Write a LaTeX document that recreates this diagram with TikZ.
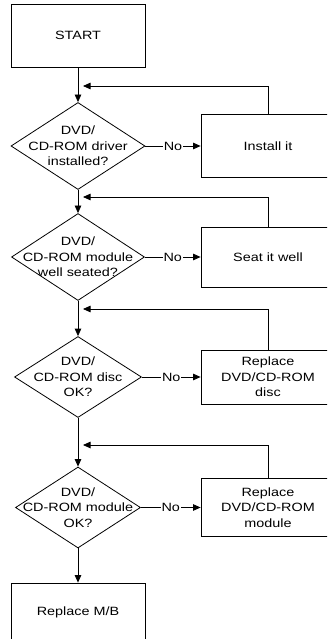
\documentclass[tikz,border=0pt]{standalone}
\usepackage{fontspec}
\newfontfamily\flowFont[FakeStretch=1.2]{Liberation Sans}
\usetikzlibrary{arrows.meta,shapes.geometric}
\tikzset{
  flowBox/.style={draw, rectangle, minimum width=134pt, inner sep=0pt, align=center},
  flowDiamond/.style={draw, diamond, inner sep=0pt},
  flowText/.style={align=center, inner sep=0pt},
  flowArrow/.style={-{Triangle[length=7.5pt,width=6.5pt]}},
  noLabel/.style={fill=white, inner sep=1pt}
}
\begin{document}
\begin{tikzpicture}[x=1pt, y=1pt, line width=0.8pt,
    font=\flowFont\fontsize{12}{15.3}\selectfont]
    \path[use as bounding box, clip] (0,0) rectangle (327,-639);
    \fill[white] (0,0) rectangle (327,-639);

    % Pasos principales
    \node[flowBox, minimum height=63pt] (start) at (78,-35.5) {START};
    \node[flowDiamond, minimum width=134pt, minimum height=87pt,
        label={[flowText]center:DVD/\\CD-ROM driver\\installed?}] (chkDriver) at (78,-146) {};
    \node[flowDiamond, minimum width=133pt, minimum height=87pt,
        label={[flowText]center:DVD/\\CD-ROM module\\well seated?}] (chkSeat) at (78,-257) {};
    \node[flowDiamond, minimum width=127pt, minimum height=81pt,
        label={[flowText]center:DVD/\\CD-ROM disc\\OK?}] (chkDisc) at (78,-377) {};
    \node[flowDiamond, minimum width=125pt, minimum height=81pt,
        label={[flowText]center:DVD/\\CD-ROM module\\OK?}] (chkModule) at (78,-507.5) {};
    \node[flowBox, minimum height=58pt] (replaceMB) at (78,-612) {Replace M/B};

    % Acciones (columna derecha)
    \node[flowBox, minimum height=63pt] (install) at (268,-146) {Install it};
    \node[flowBox, minimum height=60pt] (seat) at (268,-257) {Seat it well};
    \node[flowBox, minimum height=54pt] (replaceDisc) at (268,-377) {Replace\\DVD/CD-ROM\\disc};
    \node[flowBox, minimum height=58pt] (replaceModule) at (268,-507.5) {Replace\\DVD/CD-ROM\\module};

    % Puntos de retorno
    \coordinate (fbDriver) at (83,-86);
    \coordinate (fbSeat) at (83,-197);
    \coordinate (fbDisc) at (83,-309);
    \coordinate (fbModule) at (83,-445);

    % Flujo vertical
    \draw[flowArrow] (start) -- (chkDriver);
    \draw[flowArrow] (chkDriver) -- (chkSeat);
    \draw[flowArrow] (chkSeat) -- (chkDisc);
    \draw[flowArrow] (chkDisc) -- (chkModule);
    \draw[flowArrow] (chkModule) -- (replaceMB);

    % Ramas "No"
    \draw[flowArrow] (chkDriver) -- node[noLabel] {No} (install);
    \draw[flowArrow] (chkSeat) -- node[noLabel] {No} (seat);
    \draw[flowArrow] (chkDisc) -- node[noLabel] {No} (replaceDisc);
    \draw[flowArrow] (chkModule) -- node[noLabel] {No} (replaceModule);

    % Retornos
    \draw[flowArrow] (install.north) |- (fbDriver);
    \draw[flowArrow] (seat.north) |- (fbSeat);
    \draw[flowArrow] (replaceDisc.north) |- (fbDisc);
    \draw[flowArrow] (replaceModule.north) |- (fbModule);
\end{tikzpicture}
\end{document}
